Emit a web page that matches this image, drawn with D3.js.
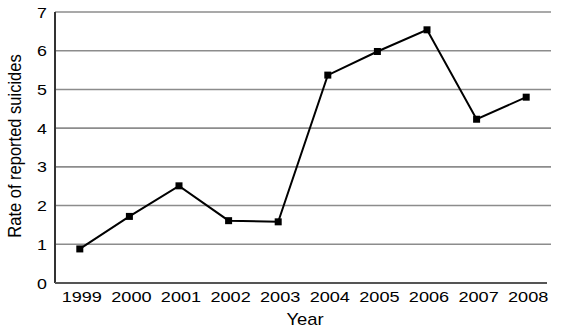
<!DOCTYPE html>
<html>
<head>
<meta charset="utf-8">
<script src="https://cdn.jsdelivr.net/npm/d3@7"></script>
<style>
  body { margin: 0; background: #fff; }
  text { font-family: "Liberation Sans", Arial, sans-serif; fill: #000; }
</style>
</head>
<body>
<div id="chart"></div>
<script>
// Data
const years = ["1999", "2000", "2001", "2002", "2003", "2004", "2005", "2006", "2007", "2008"];
const rates = [0.88, 1.72, 2.51, 1.61, 1.58, 5.37, 5.98, 6.54, 4.23, 4.80];
const yTicks = [0, 1, 2, 3, 4, 5, 6, 7];

const W = 566, H = 330;
const margin = {top: 12, right: 15, bottom: 47, left: 55},
width = W - margin.left - margin.right,
height = H - margin.top - margin.bottom;

const svg = d3.select("#chart")
.append("svg")
.attr("width", W)
.attr("height", H)
.append("g")
.attr("transform", `translate(${margin.left},${margin.top})`);

const x = d3.scalePoint().domain(years).range([0, width]).padding(0.5);
const y = d3.scaleLinear().domain([0, 7]).range([height, 0]);

// Gridlines
svg.selectAll(".grid")
.data(yTicks.filter(d => d > 0))
.enter()
.append("line")
.attr("x1", 0)
.attr("x2", width)
.attr("y1", d => y(d))
.attr("y2", d => y(d))
.attr("stroke", "#8c8c8c")
.attr("stroke-width", 1.6);

// Axes lines
svg.append("line")
.attr("x1", 0).attr("x2", 0)
.attr("y1", y(7)).attr("y2", y(0))
.attr("stroke", "#333").attr("stroke-width", 2);
svg.append("line")
.attr("x1", 0).attr("x2", width - 4)
.attr("y1", y(0)).attr("y2", y(0))
.attr("stroke", "#555").attr("stroke-width", 2);

// Y tick labels
svg.selectAll(".ylab")
.data(yTicks)
.enter()
.append("text")
.attr("text-anchor", "end")
.attr("transform", d => `translate(-8,${y(d) + 5.5}) scale(1.15,1)`)
.style("font-size", "15.5px")
.text(d => d);

// X tick labels
svg.selectAll(".xlab")
.data(years)
.enter()
.append("text")
.attr("text-anchor", "middle")
.attr("transform", d => `translate(${x(d) + 2},${height + 19}) scale(1.25,1)`)
.style("font-size", "14.5px")
.text(d => d);

// Axis titles
svg.append("text")
.attr("text-anchor", "middle")
.attr("transform", `translate(${305 - margin.left},${325 - margin.top}) scale(1.15,1)`)
.style("font-size", "16px")
.text("Year");

svg.append("text")
.attr("text-anchor", "middle")
.attr("transform", `translate(${21 - margin.left},${146 - margin.top}) rotate(-90) scale(1,1.15)`)
.style("font-size", "16.5px")
.text("Rate of reported suicides");

// Line
const line = d3.line()
.x((d, i) => x(years[i]))
.y(d => y(d));

svg.append("path")
.datum(rates)
.attr("d", line)
.attr("fill", "none")
.attr("stroke", "#000")
.attr("stroke-width", 2);

// Square markers
svg.selectAll(".pt")
.data(rates)
.enter()
.append("rect")
.attr("x", (d, i) => x(years[i]) - 3.5)
.attr("y", d => y(d) - 3.5)
.attr("width", 7)
.attr("height", 7)
.attr("fill", "#000");
</script>
</body>
</html>
